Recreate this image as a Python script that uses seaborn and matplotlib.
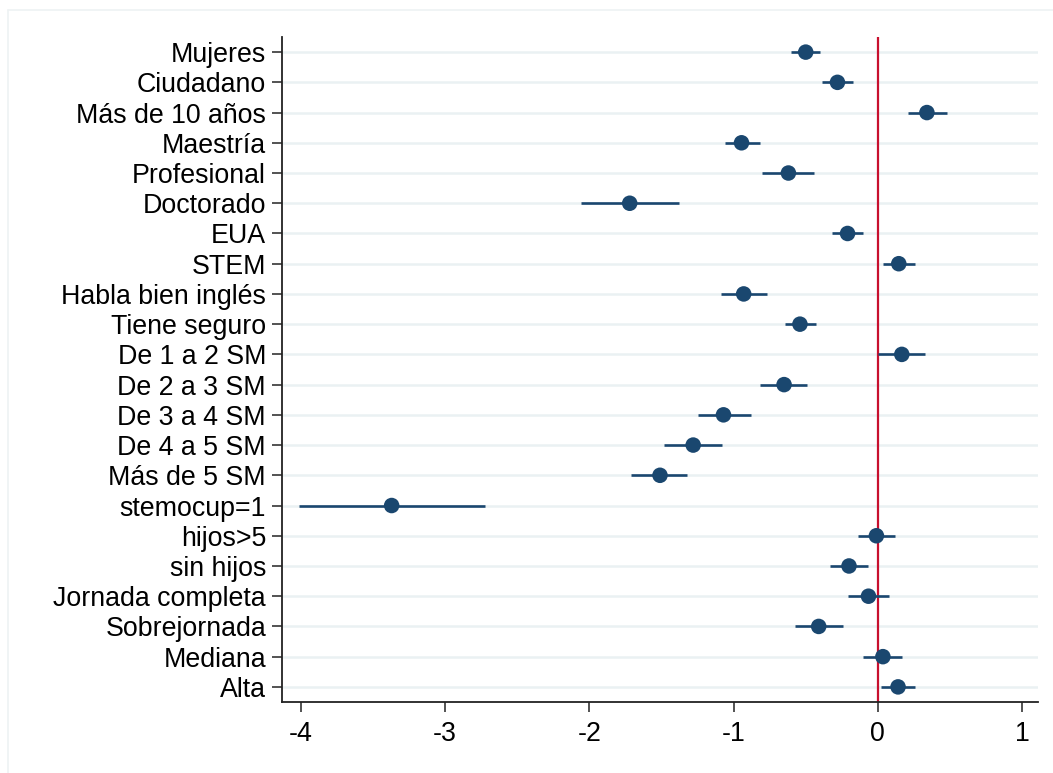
import matplotlib
matplotlib.use("Agg")
import matplotlib.pyplot as plt
import seaborn as sns
import pandas as pd
from matplotlib.lines import Line2D

# Coefficient estimates with 95% confidence intervals
variables = [
    "Mujeres", "Ciudadano", "Más de 10 años", "Maestría", "Profesional",
    "Doctorado", "EUA", "STEM", "Habla bien inglés", "Tiene seguro",
    "De 1 a 2 SM", "De 2 a 3 SM", "De 3 a 4 SM", "De 4 a 5 SM", "Más de 5 SM",
    "stemocup=1", "hijos>5", "sin hijos", "Jornada completa", "Sobrejornada",
    "Mediana", "Alta",
]
coef = [-0.50, -0.28, 0.34, -0.945, -0.62, -1.72, -0.21, 0.145, -0.93, -0.54,
        0.166, -0.65, -1.07, -1.28, -1.51, -3.37, -0.01, -0.20, -0.065, -0.41,
        0.035, 0.14]
ci_low = [-0.60, -0.39, 0.21, -1.06, -0.80, -2.06, -0.32, 0.035, -1.09, -0.645,
          0.0, -0.82, -1.25, -1.48, -1.71, -4.015, -0.14, -0.33, -0.21, -0.575,
          -0.10, 0.02]
ci_high = [-0.40, -0.17, 0.48, -0.82, -0.44, -1.38, -0.10, 0.26, -0.77, -0.43,
           0.33, -0.49, -0.88, -1.08, -1.32, -2.72, 0.12, -0.07, 0.075, -0.24,
           0.165, 0.255]
x_ticks = [-4, -3, -2, -1, 0, 1]

df = pd.DataFrame({"variable": variables, "coef": coef,
                   "lo": ci_low, "hi": ci_high})

navy = "#1a476f"
red = "#c8102e"
grid_col = "#eaf1f3"

sns.set_theme(style="white")
plt.rcParams["font.family"] = ["Liberation Sans", "DejaVu Sans"]

fig = plt.figure(figsize=(10.53, 7.73), dpi=100)
ax = fig.add_axes([282 / 1053, 1 - 702 / 773, (1038 - 282) / 1053, (702 - 37) / 773])

# Light frame around the graph region
fig.add_artist(Line2D([8 / 1053, 8 / 1053], [0, 1 - 10 / 773],
                      transform=fig.transFigure, color="#eef2f3", lw=1.2))
fig.add_artist(Line2D([8 / 1053, 1], [1 - 10 / 773, 1 - 10 / 773],
                      transform=fig.transFigure, color="#eef2f3", lw=1.2))

ypos = list(range(len(variables)))

# Horizontal gridlines at each category
for y in ypos:
    ax.axhline(y, color=grid_col, lw=1.8, zorder=0)

# Reference line at zero
ax.axvline(0, color=red, lw=1.6, zorder=1)

# Confidence intervals
ax.hlines(ypos, df["lo"], df["hi"], color=navy, lw=1.9, zorder=2)

# Point estimates
sns.scatterplot(data=df, x="coef", y=ypos, ax=ax, color=navy, s=125,
                edgecolor="none", zorder=3, legend=False)

ax.set_ylim(len(variables) - 0.5, -0.5)
ax.set_xlim(-4.13, 1.11)
ax.set_yticks(ypos)
ax.set_yticklabels(variables)
ax.set_xticks(x_ticks)
ax.set_xticklabels([str(t) for t in x_ticks])
ax.set_xlabel("")
ax.set_ylabel("")

for side in ["top", "right"]:
    ax.spines[side].set_visible(False)
for side in ["left", "bottom"]:
    ax.spines[side].set_color("#222222")
    ax.spines[side].set_linewidth(1.3)

ax.tick_params(axis="both", which="major", length=7.5, width=1.3,
               color="#444444", labelsize=19.3, labelcolor="black")
ax.tick_params(axis="y", pad=4)
ax.tick_params(axis="x", pad=6)
ax.tick_params(left=True, bottom=True)

fig.savefig("out.png", dpi=100)
